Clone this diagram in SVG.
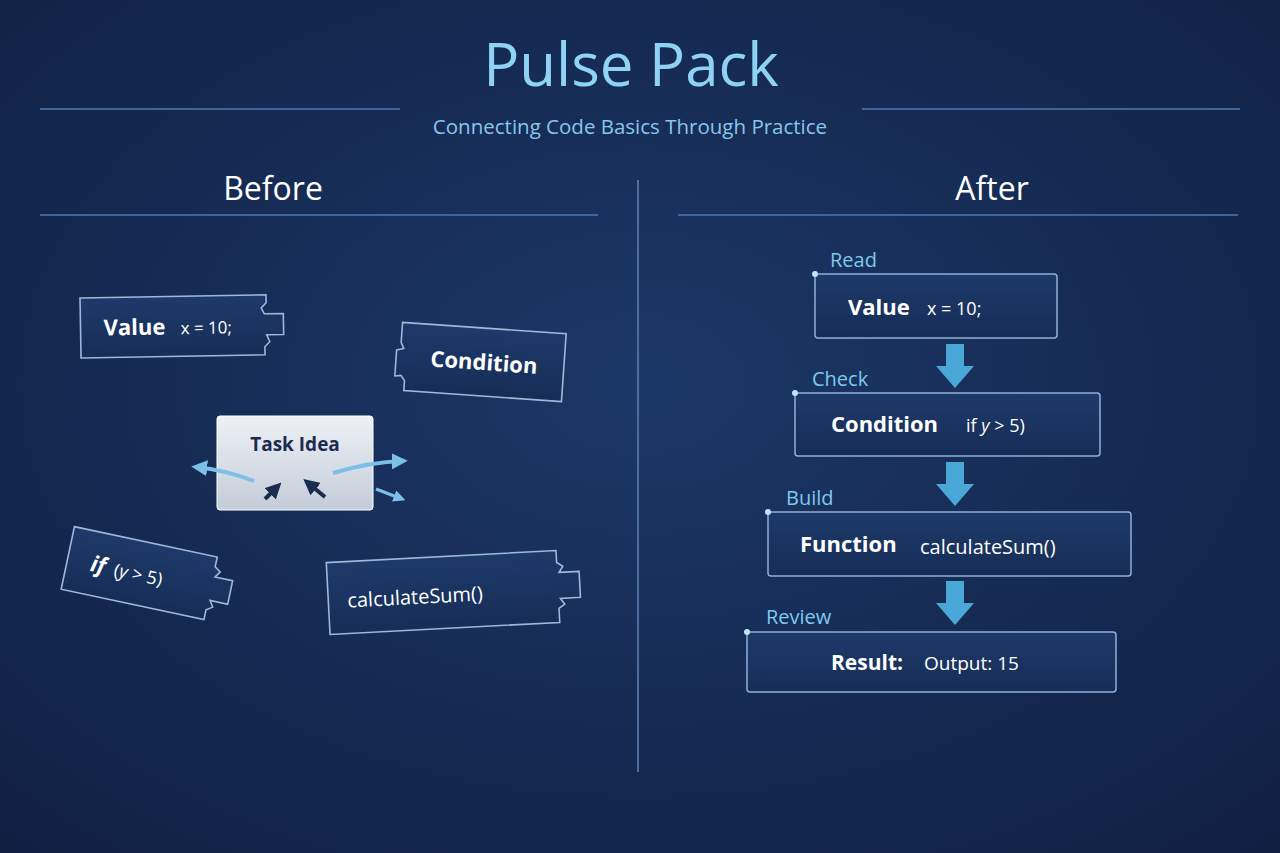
<svg xmlns="http://www.w3.org/2000/svg" width="1280" height="853" viewBox="0 0 1280 853">
<defs>
<radialGradient id="bg" cx="50%" cy="45%" r="75%"><stop offset="0" stop-color="#1c3866"/><stop offset="1" stop-color="#0f1f42"/></radialGradient>
<linearGradient id="card" x1="0" y1="0" x2="0" y2="1"><stop offset="0" stop-color="#1e3a6a"/><stop offset="1" stop-color="#162d56"/></linearGradient>
<linearGradient id="task" x1="0" y1="0" x2="0" y2="1"><stop offset="0" stop-color="#eef1f6"/><stop offset="1" stop-color="#c4ccd8"/></linearGradient>
<marker id="ah" viewBox="0 0 10 10" refX="7" refY="5" markerWidth="4" markerHeight="4" orient="auto"><path d="M0,0 L10,5 L0,10 Z" fill="#7cc0ea"/></marker>
<marker id="ad" viewBox="0 0 10 10" refX="7" refY="5" markerWidth="4" markerHeight="4" orient="auto"><path d="M0,0 L10,5 L0,10 Z" fill="#1a2c50"/></marker>
</defs>
<style>
.t{font-family:"Open Sans","Liberation Sans",sans-serif}
.piece{fill:url(#card);stroke:#9fb8d8;stroke-width:1.6}
.box{fill:url(#card);stroke:#8fb0d8;stroke-width:1.5}
.b{font-weight:bold;fill:#ffffff}
.c{fill:#ffffff}
.lbl{fill:#7fc8ee;font-size:20px}
.rule{stroke:#4d78b8;stroke-width:1.5}
.dot{fill:#bfe6ff}
.darr{fill:#4aa8d8}
</style>
<rect width="1280" height="853" fill="url(#bg)"/>
<g id="header">
<text class="t" x="631" y="86" text-anchor="middle" font-size="60" fill="#8fd3f4">Pulse Pack</text>
<line class="rule" x1="40" y1="109" x2="400" y2="109"/>
<line class="rule" x1="862" y1="109" x2="1240" y2="109"/>
<text class="t" x="630" y="134" text-anchor="middle" font-size="20.5" fill="#8ac6ea">Connecting Code Basics Through Practice</text>
<text class="t" x="273" y="200" text-anchor="middle" font-size="32" fill="#ffffff">Before</text>
<line class="rule" x1="40" y1="215" x2="598" y2="215"/>
<text class="t" x="992" y="200" text-anchor="middle" font-size="32" fill="#ffffff">After</text>
<line class="rule" x1="678" y1="215" x2="1238" y2="215"/>
<line x1="638" y1="180" x2="638" y2="772" stroke="#4d6fa0" stroke-width="2"/>
</g>
<g id="before-value" transform="translate(80,298) rotate(-1)">
<path class="piece" d="M0,0 H186 V8 L181,13 L184,19 H203 V40 H186 L189,47 L184,52 V60 H0 Z"/>
<text class="t b" x="23" y="38" font-size="22">Value</text>
<text class="t c" x="100" y="38" font-size="17">x = 10;</text>
</g>
<g id="before-condition" transform="translate(482,362) rotate(4)">
<path class="piece" d="M-82,-34 H82 V34 H-76 V24 L-80,19 L-86,20 V-6 L-79,-8 L-82,-14 Z"/>
<text class="t b" x="2" y="8" text-anchor="middle" font-size="22">Condition</text>
</g>
<g id="before-if" transform="translate(148,575) rotate(12)">
<path class="piece" d="M-82,-32 H64 V-22 L70,-18 L66,-12 H84 V12 H66 L70,18 L64,22 V32 H-82 Z"/>
<text class="t b" x="-58" y="8" font-size="22" font-style="italic">if</text>
<text class="t c" x="-34" y="8" font-size="18">(<tspan font-style="italic">y</tspan> &gt; 5)</text>
</g>
<g id="before-sum" transform="translate(453,592) rotate(-3)">
<path class="piece" d="M-125,-36 H105 V-24 L111,-20 L107,-14 H127 V12 H107 L111,18 L105,22 V36 H-125 Z"/>
<text class="t c" x="-106" y="10" font-size="20">calculateSum()</text>
</g>
<g id="before-task">
<rect x="217" y="416" width="156" height="94" rx="3" fill="url(#task)" stroke="#ffffff" stroke-width="1"/>
<text class="t" x="295" y="451" text-anchor="middle" font-size="19" font-weight="bold" fill="#1a2c50">Task Idea</text>
</g>
<g id="connectors" fill="none">
<path d="M254,481 Q225,470 196,467" stroke="#7cc0ea" stroke-width="4" marker-end="url(#ah)"/>
<path d="M333,473 Q370,462 403,461" stroke="#7cc0ea" stroke-width="4" marker-end="url(#ah)"/>
<path d="M376,489 L402,499" stroke="#7cc0ea" stroke-width="3" marker-end="url(#ah)"/>
<path d="M265,499 L278,486" stroke="#1a2c50" stroke-width="4" marker-end="url(#ad)"/>
<path d="M325,497 L307,482" stroke="#1a2c50" stroke-width="4" marker-end="url(#ad)"/>
<path class="darr" d="M946,344 H964 V366 H974 L955,388 L936,366 H946 Z"/>
<path class="darr" d="M946,462 H964 V484 H974 L955,506 L936,484 H946 Z"/>
<path class="darr" d="M946,581 H964 V603 H974 L955,625 L936,603 H946 Z"/>
</g>
<g id="after-read">
<rect class="box" x="815" y="274" width="242" height="64" rx="3"/>
<circle class="dot" cx="815" cy="274" r="3"/>
<text class="t lbl" x="830" y="267">Read</text>
<text class="t b" x="848" y="315" font-size="22">Value</text>
<text class="t c" x="927" y="315" font-size="18">x = 10;</text>
</g>
<g id="after-check">
<rect class="box" x="795" y="393" width="305" height="63" rx="3"/>
<circle class="dot" cx="795" cy="393" r="3"/>
<text class="t lbl" x="812" y="386">Check</text>
<text class="t b" x="831" y="432" font-size="22">Condition</text>
<text class="t c" x="966" y="432" font-size="18">if  <tspan font-style="italic">y</tspan> &gt; 5)</text>
</g>
<g id="after-build">
<rect class="box" x="768" y="512" width="363" height="64" rx="3"/>
<circle class="dot" cx="768" cy="512" r="3"/>
<text class="t lbl" x="786" y="505">Build</text>
<text class="t b" x="800" y="552" font-size="22">Function</text>
<text class="t c" x="920" y="554" font-size="20">calculateSum()</text>
</g>
<g id="after-review">
<rect class="box" x="747" y="632" width="369" height="60" rx="3"/>
<circle class="dot" cx="747" cy="632" r="3"/>
<text class="t lbl" x="766" y="624">Review</text>
<text class="t b" x="831" y="670" font-size="21">Result:</text>
<text class="t c" x="924" y="670" font-size="19">Output: 15</text>
</g>
</svg>
